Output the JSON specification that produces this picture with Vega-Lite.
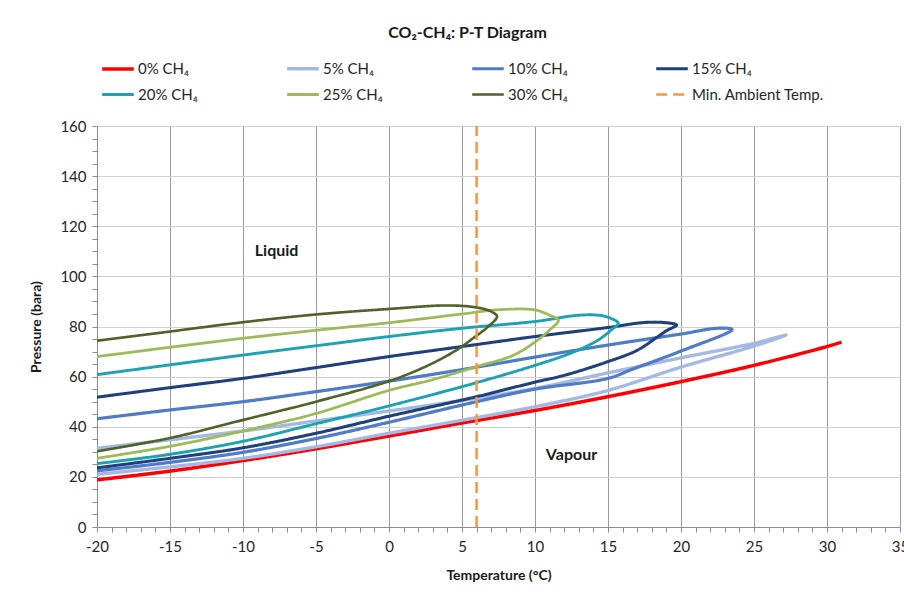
{
  "$schema": "https://vega.github.io/schema/vega-lite/v6.json",
  "width": 803,
  "height": 401,
  "autosize": {"type": "none"},
  "padding": {"left": 97, "top": 126, "right": 4, "bottom": 72},
  "background": "white",
  "title": {"text": "CO₂-CH₄: P-T Diagram", "font": "Lato", "fontSize": 16, "fontWeight": "bold", "color": "#1a1a1a", "anchor": "middle", "dx": -31, "offset": 10},
  "config": {
    "view": {"stroke": null},
    "font": "Lato"
  },
  "datasets": {
    "curves": [
      {"s":"0% CH₄","o":1,"T":-20,"P":18.8},{"s":"0% CH₄","o":2,"T":-15,"P":22.3},{"s":"0% CH₄","o":3,"T":-10,"P":26.5},{"s":"0% CH₄","o":4,"T":-5,"P":31.2},{"s":"0% CH₄","o":5,"T":0,"P":36.3},{"s":"0% CH₄","o":6,"T":5,"P":41.5},{"s":"0% CH₄","o":7,"T":10,"P":46.5},{"s":"0% CH₄","o":8,"T":15,"P":52},{"s":"0% CH₄","o":9,"T":20,"P":58},{"s":"0% CH₄","o":10,"T":25,"P":64.5},{"s":"0% CH₄","o":11,"T":30,"P":72},{"s":"0% CH₄","o":12,"T":31,"P":73.8},

      {"s":"5% CH₄","o":1,"T":-20,"P":31.4},{"s":"5% CH₄","o":2,"T":-15,"P":34.8},{"s":"5% CH₄","o":3,"T":-10,"P":38.3},{"s":"5% CH₄","o":4,"T":-5,"P":42.3},{"s":"5% CH₄","o":5,"T":0,"P":46.3},{"s":"5% CH₄","o":6,"T":5,"P":50.5},{"s":"5% CH₄","o":7,"T":10,"P":55.3},{"s":"5% CH₄","o":8,"T":15,"P":61.5},{"s":"5% CH₄","o":9,"T":20,"P":67.5},{"s":"5% CH₄","o":10,"T":25,"P":73.3},{"s":"5% CH₄","o":11,"T":27.2,"P":76.6},{"s":"5% CH₄","o":12,"T":25,"P":72.2},{"s":"5% CH₄","o":13,"T":20,"P":63.8},{"s":"5% CH₄","o":14,"T":15,"P":54.5},{"s":"5% CH₄","o":15,"T":10,"P":48},{"s":"5% CH₄","o":16,"T":5,"P":42.6},{"s":"5% CH₄","o":17,"T":0,"P":37.4},{"s":"5% CH₄","o":18,"T":-5,"P":32},{"s":"5% CH₄","o":19,"T":-10,"P":27.4},{"s":"5% CH₄","o":20,"T":-15,"P":24},{"s":"5% CH₄","o":21,"T":-20,"P":21},

      {"s":"10% CH₄","o":1,"T":-20,"P":43.2},{"s":"10% CH₄","o":2,"T":-15,"P":46.7},{"s":"10% CH₄","o":3,"T":-10,"P":50},{"s":"10% CH₄","o":4,"T":-5,"P":54},{"s":"10% CH₄","o":5,"T":0,"P":58.2},{"s":"10% CH₄","o":6,"T":5,"P":62.8},{"s":"10% CH₄","o":7,"T":10,"P":67.8},{"s":"10% CH₄","o":8,"T":15,"P":72.6},{"s":"10% CH₄","o":9,"T":20,"P":77},{"s":"10% CH₄","o":10,"T":22.5,"P":79.3},{"s":"10% CH₄","o":11,"T":23.5,"P":78.8},{"s":"10% CH₄","o":12,"T":20,"P":70.2},{"s":"10% CH₄","o":13,"T":16.7,"P":63},{"s":"10% CH₄","o":14,"T":15,"P":59.3},{"s":"10% CH₄","o":15,"T":10,"P":55},{"s":"10% CH₄","o":16,"T":6,"P":50},{"s":"10% CH₄","o":17,"T":0,"P":41.8},{"s":"10% CH₄","o":18,"T":-5,"P":35.3},{"s":"10% CH₄","o":19,"T":-10,"P":29.8},{"s":"10% CH₄","o":20,"T":-15,"P":25.8},{"s":"10% CH₄","o":21,"T":-20,"P":22.4},

      {"s":"15% CH₄","o":1,"T":-20,"P":51.8},{"s":"15% CH₄","o":2,"T":-15,"P":55.6},{"s":"15% CH₄","o":3,"T":-10,"P":59.3},{"s":"15% CH₄","o":4,"T":-5,"P":63.6},{"s":"15% CH₄","o":5,"T":0,"P":68},{"s":"15% CH₄","o":6,"T":5,"P":72},{"s":"15% CH₄","o":7,"T":10,"P":76},{"s":"15% CH₄","o":8,"T":15,"P":79.6},{"s":"15% CH₄","o":9,"T":17.5,"P":81.6},{"s":"15% CH₄","o":10,"T":19,"P":81.5},{"s":"15% CH₄","o":11,"T":19.7,"P":80.6},{"s":"15% CH₄","o":12,"T":19,"P":78.3},{"s":"15% CH₄","o":13,"T":18.3,"P":75.5},{"s":"15% CH₄","o":14,"T":17,"P":70.5},{"s":"15% CH₄","o":15,"T":15,"P":66},{"s":"15% CH₄","o":16,"T":12,"P":60.5},{"s":"15% CH₄","o":17,"T":10,"P":57.8},{"s":"15% CH₄","o":18,"T":6,"P":52},{"s":"15% CH₄","o":19,"T":0,"P":44.2},{"s":"15% CH₄","o":20,"T":-5,"P":37.4},{"s":"15% CH₄","o":21,"T":-10,"P":31.6},{"s":"15% CH₄","o":22,"T":-15,"P":27.4},{"s":"15% CH₄","o":23,"T":-20,"P":23.6},

      {"s":"20% CH₄","o":1,"T":-20,"P":60.8},{"s":"20% CH₄","o":2,"T":-15,"P":64.7},{"s":"20% CH₄","o":3,"T":-10,"P":68.6},{"s":"20% CH₄","o":4,"T":-5,"P":72.3},{"s":"20% CH₄","o":5,"T":0,"P":76},{"s":"20% CH₄","o":6,"T":5,"P":79.3},{"s":"20% CH₄","o":7,"T":10,"P":82},{"s":"20% CH₄","o":8,"T":13,"P":84.5},{"s":"20% CH₄","o":9,"T":14.5,"P":84.4},{"s":"20% CH₄","o":10,"T":15.3,"P":83},{"s":"20% CH₄","o":11,"T":15.7,"P":81.3},{"s":"20% CH₄","o":12,"T":15.2,"P":78.5},{"s":"20% CH₄","o":13,"T":14.3,"P":74.5},{"s":"20% CH₄","o":14,"T":12.5,"P":69.5},{"s":"20% CH₄","o":15,"T":10,"P":64.5},{"s":"20% CH₄","o":16,"T":6,"P":57.6},{"s":"20% CH₄","o":17,"T":0,"P":48.3},{"s":"20% CH₄","o":18,"T":-5,"P":41.2},{"s":"20% CH₄","o":19,"T":-10,"P":34.2},{"s":"20% CH₄","o":20,"T":-15,"P":29},{"s":"20% CH₄","o":21,"T":-20,"P":25.3},

      {"s":"25% CH₄","o":1,"T":-20,"P":68},{"s":"25% CH₄","o":2,"T":-15,"P":71.7},{"s":"25% CH₄","o":3,"T":-10,"P":75.3},{"s":"25% CH₄","o":4,"T":-5,"P":78.5},{"s":"25% CH₄","o":5,"T":0,"P":81.5},{"s":"25% CH₄","o":6,"T":5,"P":85},{"s":"25% CH₄","o":7,"T":7.5,"P":86.7},{"s":"25% CH₄","o":8,"T":10,"P":86.6},{"s":"25% CH₄","o":9,"T":11,"P":84.5},{"s":"25% CH₄","o":10,"T":11.6,"P":82.5},{"s":"25% CH₄","o":11,"T":11,"P":78.6},{"s":"25% CH₄","o":12,"T":10,"P":73.8},{"s":"25% CH₄","o":13,"T":8.5,"P":68.5},{"s":"25% CH₄","o":14,"T":6,"P":64},{"s":"25% CH₄","o":15,"T":3,"P":58.8},{"s":"25% CH₄","o":16,"T":0,"P":54.5},{"s":"25% CH₄","o":17,"T":-5,"P":45.3},{"s":"25% CH₄","o":18,"T":-10,"P":38.3},{"s":"25% CH₄","o":19,"T":-15,"P":32.2},{"s":"25% CH₄","o":20,"T":-20,"P":27.4},

      {"s":"30% CH₄","o":1,"T":-20,"P":74.3},{"s":"30% CH₄","o":2,"T":-15,"P":78},{"s":"30% CH₄","o":3,"T":-10,"P":81.7},{"s":"30% CH₄","o":4,"T":-5,"P":84.8},{"s":"30% CH₄","o":5,"T":0,"P":87},{"s":"30% CH₄","o":6,"T":4,"P":88.4},{"s":"30% CH₄","o":7,"T":6,"P":87.6},{"s":"30% CH₄","o":8,"T":7,"P":86},{"s":"30% CH₄","o":9,"T":7.4,"P":84},{"s":"30% CH₄","o":10,"T":6.8,"P":80},{"s":"30% CH₄","o":11,"T":5.8,"P":75.5},{"s":"30% CH₄","o":12,"T":4.6,"P":70.5},{"s":"30% CH₄","o":13,"T":2.5,"P":64},{"s":"30% CH₄","o":14,"T":0,"P":58.2},{"s":"30% CH₄","o":15,"T":-5,"P":50},{"s":"30% CH₄","o":16,"T":-10,"P":42.7},{"s":"30% CH₄","o":17,"T":-15,"P":35.5},{"s":"30% CH₄","o":18,"T":-20,"P":30.2},

      {"s":"Min. Ambient Temp.","o":1,"T":6,"P":0},{"s":"Min. Ambient Temp.","o":2,"T":6,"P":160}
    ],
    "labels": [
      {"label":"Liquid","T":-7.7,"P":110},
      {"label":"Vapour","T":12.5,"P":28.7}
    ]
  },
  "encoding": {
    "x": {"field": "T", "type": "quantitative",
      "scale": {"domain": [-20, 35], "nice": false, "zero": false},
      "axis": {
        "title": "Temperature (°C)", "titleFont": "Lato", "titleFontSize": 14, "titleFontWeight": "bold", "titleColor": "#1a1a1a", "titlePadding": 14,
        "values": [-20,-19,-18,-17,-16,-15,-14,-13,-12,-11,-10,-9,-8,-7,-6,-5,-4,-3,-2,-1,0,1,2,3,4,5,6,7,8,9,10,11,12,13,14,15,16,17,18,19,20,21,22,23,24,25,26,27,28,29,30,31,32,33,34,35],
        "labelExpr": "abs(datum.value) % 5 < 0.01 ? '' + datum.value : ''",
        "labelFont": "Lato", "labelFontSize": 15, "labelColor": "#262626", "labelPadding": 7, "labelOverlap": false, "labelFlush": false,
        "domainColor": "#8c8c8c", "tickColor": "#8c8c8c", "tickSize": 5,
        "grid": true, "gridColor": "#9a9a9a", "gridWidth": 1,
        "gridOpacity": {"condition": {"test": "abs(datum.value) % 5 < 0.01", "value": 1}, "value": 0}
      }},
    "y": {"field": "P", "type": "quantitative",
      "scale": {"domain": [0, 160], "nice": false},
      "axis": {
        "title": "Pressure (bara)", "titleFont": "Lato", "titleFontSize": 14, "titleFontWeight": "bold", "titleColor": "#1a1a1a", "titlePadding": 16,
        "values": [0,5,10,15,20,25,30,35,40,45,50,55,60,65,70,75,80,85,90,95,100,105,110,115,120,125,130,135,140,145,150,155,160],
        "labelExpr": "datum.value / 20 === round(datum.value / 20) ? '' + datum.value : ''",
        "labelFont": "Lato", "labelFontSize": 15, "labelColor": "#262626", "labelPadding": 6, "labelOverlap": false,
        "domainColor": "#8c8c8c", "tickColor": "#8c8c8c", "tickSize": 5,
        "grid": true, "gridColor": "#cfcfcf", "gridWidth": 1,
        "gridOpacity": {"condition": {"test": "datum.value / 20 === round(datum.value / 20)", "value": 1}, "value": 0}
      }}
  },
  "layer": [
    {
      "data": {"name": "curves"},
      "mark": {"type": "line", "interpolate": "catmull-rom", "clip": true},
      "encoding": {
        "order": {"field": "o", "type": "quantitative"},
        "color": {"field": "s", "type": "nominal",
          "scale": {
            "domain": ["0% CH₄","5% CH₄","10% CH₄","15% CH₄","20% CH₄","25% CH₄","30% CH₄","Min. Ambient Temp."],
            "range": ["#ff0000","#a3b8e3","#4f7cc8","#1f3f7d","#1ba3b1","#9bbb59","#4f6228","#f79646"]
          },
          "legend": {
            "title": null, "orient": "none", "legendX": 3, "legendY": -75,
            "direction": "horizontal", "columns": 4, "columnPadding": 82, "rowPadding": 0,
            "symbolType": "stroke", "symbolSize": 1000, "symbolStrokeWidth": 3,
            "labelFont": "Lato", "labelFontSize": 15, "labelColor": "#262626", "labelOffset": 2
          }},
        "strokeDash": {"field": "s", "type": "nominal",
          "scale": {
            "domain": ["0% CH₄","5% CH₄","10% CH₄","15% CH₄","20% CH₄","25% CH₄","30% CH₄","Min. Ambient Temp."],
            "range": [[1,0],[1,0],[1,0],[1,0],[1,0],[1,0],[1,0],[11,6]]
          },
          "legend": {
            "title": null, "orient": "none", "legendX": 3, "legendY": -75,
            "direction": "horizontal", "columns": 4, "columnPadding": 82, "rowPadding": 0,
            "symbolType": "stroke", "symbolSize": 1000, "symbolStrokeWidth": 3,
            "labelFont": "Lato", "labelFontSize": 15, "labelColor": "#262626", "labelOffset": 2
          }},
        "strokeWidth": {"field": "s", "type": "nominal",
          "scale": {
            "domain": ["0% CH₄","5% CH₄","10% CH₄","15% CH₄","20% CH₄","25% CH₄","30% CH₄","Min. Ambient Temp."],
            "range": [3.5,2.5,2.5,2.5,2.5,2.5,2.5,2.5]
          },
          "legend": null}
      }
    },
    {
      "data": {"name": "labels"},
      "mark": {"type": "text", "font": "Lato", "fontSize": 16, "fontWeight": "bold", "color": "#1a1a1a"},
      "encoding": {
        "text": {"field": "label", "type": "nominal"}
      }
    }
  ]
}
